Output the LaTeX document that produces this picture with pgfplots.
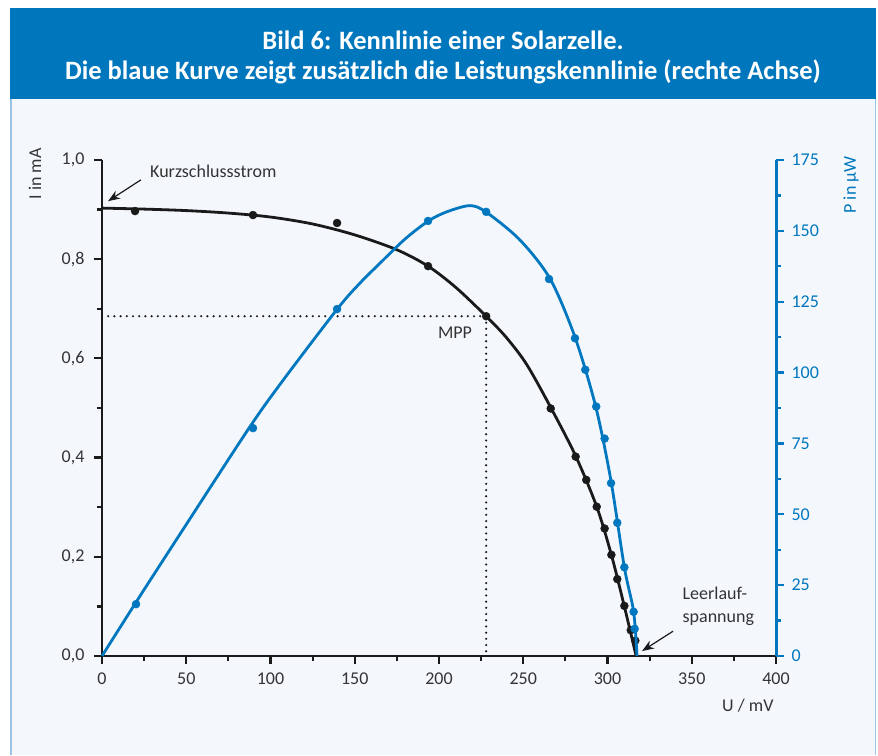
\documentclass[border=0pt]{standalone}
\usepackage{pgfplots}
\pgfplotsset{compat=1.18}
\usepackage{pgfplotstable}
\usetikzlibrary{arrows.meta}
\usepackage{fontspec}
\setmainfont{Carlito}
\definecolor{cblue}{HTML}{0077BE}
\definecolor{cband}{HTML}{0077BD}
\definecolor{cpanel}{HTML}{F4F8FD}
\definecolor{cborder}{HTML}{9DC3E6}
\definecolor{cblack}{HTML}{1A1A1A}
\definecolor{ctext}{HTML}{333333}

\pgfplotstableread{
U I
19.6 0.897
89.6 0.889
139.5 0.873
193.5 0.786
228.0 0.685
266.3 0.499
281.1 0.402
287.4 0.355
293.6 0.301
298.3 0.257
302.3 0.204
305.8 0.155
310.0 0.101
313.8 0.052
316.5 0.031
}\blackpts

\pgfplotstableread{
U I
0 0.903
25 0.901
50 0.898
75 0.893
100 0.885
125 0.871
150 0.849
175 0.819
193.5 0.786
210 0.743
228 0.685
240 0.642
252 0.588
266 0.503
281 0.404
293.6 0.301
302.3 0.204
310 0.100
317 0
}\blackcurve

\pgfplotstableread{
U P
20.2 18.3
89.6 80.4
139.5 122.4
193.5 153.5
228.0 156.7
265.3 133.0
280.7 112.1
286.8 101.0
293.3 88.0
298.3 76.7
302.1 61.0
305.8 47.0
310.0 31.3
315.5 15.6
316.1 9.6
}\bluepts

\pgfplotstableread{
U P
0 0
22.6 21.2
50 46.4
87.8 80.9
107.6 97.4
140 122.7
153 131.5
165 138.6
180 147.2
194 153.6
205 156.8
218.4 158.9
228 156.6
248 146.8
266 133.0
280.7 112.5
293 88
302 62
310 31.3
315.5 15.6
317.5 0
}\bluecurve

\begin{document}
\begin{tikzpicture}[x=1pt,y=1pt]
\fill[white] (0,0) rectangle (878,755);
\fill[cpanel] (10,0) rectangle (876,657);
\draw[cborder, line width=1.5pt] (10.75,0) -- (10.75,657) (875.25,0) -- (875.25,657);
\fill[cband] (10,656) rectangle (876,747);
\node[white, font=\fontsize{26.5}{30}\selectfont\bfseries, align=center] at (443,698)
  {Bild 6: Kennlinie einer Solarzelle.\\Die blaue Kurve zeigt zusätzlich die Leistungskennlinie (rechte Achse)};

\begin{axis}[
  at={(102pt,99pt)}, anchor=south west, scale only axis,
  width=674pt, height=496pt,
  xmin=0, xmax=400, ymin=0, ymax=1,
  axis x line*=bottom, axis y line*=left,
  axis line style={cblack, line width=2.4pt, -},
  every outer x axis line/.append style={cblack, line width=2.4pt, -},
  every outer y axis line/.append style={cblack, line width=2.4pt, -},
  xtick={0,50,...,400}, minor x tick num=1,
  ytick={0,0.2,0.4,0.6,0.8,1.0}, minor y tick num=1,
  tick align=outside,
  major tick length=8pt, minor tick length=5pt,
  tick style={cblack, line width=2.2pt},
  xticklabel style={yshift=-5pt},
  yticklabel style={xshift=-6pt},
  ticklabel style={font=\fontsize{18}{20}\selectfont, text=ctext},
  /pgf/number format/assume math mode=true,
  yticklabel style={/pgf/number format/.cd, use comma, fixed, fixed zerofill, precision=1},
  xticklabel style={/pgf/number format/.cd, fixed, precision=0},
  clip=false,
]
\addplot[cblack, line width=2.4pt, dash pattern=on 0pt off 6.2pt, line cap=round] coordinates {(0,0.685) (228,0.685) (228,0)};
\addplot[cblack, line width=2.8pt, smooth] table[x=U,y=I] {\blackcurve};
\addplot[only marks, mark=*, mark size=4pt, cblack] table[x=U,y=I] {\blackpts};
\node[anchor=west, font=\fontsize{18}{20}\selectfont, text=ctext] at (axis cs:26.5,0.978) {Kurzschlussstrom};
\draw[-{Stealth[length=12pt,width=9pt]}, line width=1.2pt, cblack] (axis cs:23.1,0.960) -- (axis cs:3.6,0.917);
\node[font=\fontsize{18}{20}\selectfont, text=ctext] at (axis cs:209.5,0.651) {MPP};
\node[anchor=west, align=left, font=\fontsize{18}{23}\selectfont, text=ctext] at (axis cs:342.5,0.101) {Leerlauf-\\spannung};
\draw[-{Stealth[length=12pt,width=9pt]}, line width=1.2pt, cblack] (axis cs:338.9,0.050) -- (axis cs:320.5,0.010);
\end{axis}

\begin{axis}[
  at={(102pt,99pt)}, anchor=south west, scale only axis,
  width=674pt, height=496pt,
  xmin=0, xmax=400, ymin=0, ymax=175,
  hide x axis, axis y line*=right,
  axis line style={cblue, line width=3pt, -},
  every outer y axis line/.append style={cblue, line width=3pt, -},
  ytick={0,25,...,175}, minor y tick num=1,
  tick align=outside,
  major tick length=8pt, minor tick length=5pt,
  tick style={cblue, line width=2.4pt},
  yticklabel style={xshift=4pt},
  ticklabel style={font=\fontsize{18}{20}\selectfont, text=cblue},
  /pgf/number format/assume math mode=true,
  clip=false,
]
\addplot[cblue, line width=2.8pt, smooth] table[x=U,y=P] {\bluecurve};
\addplot[only marks, mark=*, mark size=4pt, cblue] table[x=U,y=P] {\bluepts};
\end{axis}

\node[rotate=90, font=\fontsize{18}{20}\selectfont, text=ctext] at (35,581) {I in mA};
\node[rotate=90, font=\fontsize{18}{20}\selectfont, text=cblue] at (851,570) {P in µW};
\node[anchor=east, font=\fontsize{18}{20}\selectfont, text=ctext] at (777,49) {U / mV};
\pgfresetboundingbox
\path (0,0) rectangle (878,755);
\end{tikzpicture}
\end{document}
